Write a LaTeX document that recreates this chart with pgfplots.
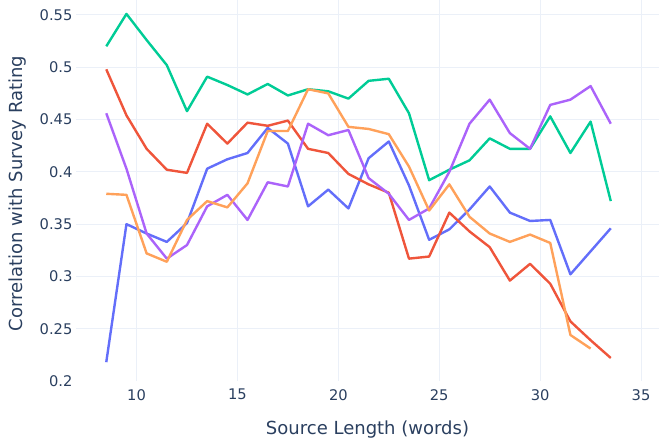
\documentclass[border=0pt]{standalone}
\usepackage{pgfplots}
\pgfplotsset{compat=1.18}
\usepackage{pgfplotstable}
\usepackage{fontspec}
\setmainfont{DejaVu Sans}
\definecolor{pblue}{HTML}{636EFA}
\definecolor{pred}{HTML}{EF553B}
\definecolor{pgreen}{HTML}{00CC96}
\definecolor{ppurple}{HTML}{AB63FA}
\definecolor{porange}{HTML}{FFA15A}
\definecolor{pgrid}{HTML}{EBF0F8}
\definecolor{ptext}{HTML}{2A3F5F}

\pgfplotstableread{
x blue red green purple
8.5 0.218 0.498 0.520 0.456
9.5 0.350 0.454 0.551 0.403
10.5 0.341 0.422 0.526 0.341
11.5 0.333 0.402 0.502 0.317
12.5 0.351 0.399 0.458 0.330
13.5 0.403 0.446 0.491 0.367
14.5 0.412 0.427 0.483 0.378
15.5 0.418 0.447 0.474 0.354
16.5 0.442 0.444 0.484 0.390
17.5 0.427 0.449 0.473 0.386
18.5 0.367 0.422 0.479 0.446
19.5 0.383 0.418 0.477 0.435
20.5 0.365 0.398 0.470 0.440
21.5 0.413 0.388 0.487 0.394
22.5 0.429 0.380 0.489 0.379
23.5 0.387 0.317 0.456 0.354
24.5 0.335 0.319 0.392 0.365
25.5 0.345 0.361 0.402 0.400
26.5 0.364 0.343 0.411 0.446
27.5 0.386 0.328 0.432 0.469
28.5 0.361 0.296 0.422 0.437
29.5 0.353 0.312 0.422 0.422
30.5 0.354 0.293 0.453 0.464
31.5 0.302 0.257 0.418 0.469
32.5 0.324 0.239 0.448 0.482
33.5 0.346 0.222 0.372 0.446
}\maindata

\pgfplotstableread{
x orange
8.5 0.379
9.5 0.378
10.5 0.322
11.5 0.314
12.5 0.354
13.5 0.372
14.5 0.366
15.5 0.389
16.5 0.439
17.5 0.439
18.5 0.479
19.5 0.475
20.5 0.443
21.5 0.441
22.5 0.436
23.5 0.405
24.5 0.363
25.5 0.388
26.5 0.357
27.5 0.341
28.5 0.333
29.5 0.340
30.5 0.332
31.5 0.244
32.5 0.231
}\orangedata

\begin{document}
\begin{tikzpicture}
\begin{axis}[
  scale only axis,
  width=437.25pt, height=285.75pt,
  xmin=7, xmax=35.89,
  ymin=0.2, ymax=0.5643,
  xtick={10,15,20,25,30,35},
  ytick={0.25,0.3,0.35,0.4,0.45,0.5,0.55},
  extra y ticks={0.2},
  extra y tick style={grid=none},
  grid=major,
  major grid style={pgrid, line width=0.75pt},
  axis line style={draw=none},
  tick style={draw=none},
  /pgf/number format/assume math mode=true,
  tick label style={font=\fontsize{11}{13}\selectfont, text=ptext},
  xticklabel style={anchor=north, inner sep=0pt, yshift=-6pt},
  yticklabel style={anchor=east, inner sep=0pt, xshift=-2.5pt},
  xlabel={Source Length (words)},
  ylabel={Correlation with Survey Rating},
  label style={font=\fontsize{13.5}{16}\selectfont, text=ptext},
  xlabel style={at={(axis description cs:0.5,0)}, anchor=north, inner sep=0pt, yshift=-29.5pt},
  ylabel style={at={(axis description cs:-0.101,0.492)}, anchor=center, rotate=0, inner sep=0pt},
  every axis plot/.append style={line width=1.8pt, line join=round, no markers},
]
\addplot[pblue] table[x=x, y=blue] {\maindata};
\addplot[pred] table[x=x, y=red] {\maindata};
\addplot[pgreen] table[x=x, y=green] {\maindata};
\addplot[ppurple] table[x=x, y=purple] {\maindata};
\addplot[porange] table[x=x, y=orange] {\orangedata};
\end{axis}
\pgfresetboundingbox
\path[use as bounding box] (current axis.south west) ++(-57pt,-45pt) rectangle (current axis.north east);
\end{tikzpicture}
\end{document}
